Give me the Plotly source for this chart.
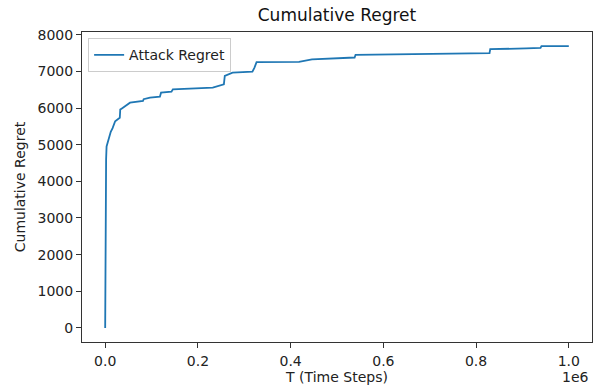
import plotly.graph_objects as go

# Data
time_steps = [0, 300, 700, 1200, 2000, 3000, 5000, 8000, 12000, 16000, 21500, 31500, 32500, 36000,
              53600, 81500, 83000, 96600, 118000, 120500, 143000, 146000, 232000, 256000, 258000,
              274700, 317600, 322000, 326500, 418000, 446000, 538000, 540000, 829000, 830500,
              907700, 939000, 941000, 1000000]
regret = [0, 1500, 3000, 4000, 4600, 4950, 5050, 5200, 5350, 5450, 5640, 5734, 5960, 5990,
          6145, 6192, 6240, 6282, 6307, 6419, 6447, 6512, 6556, 6649, 6877,
          6967, 6995, 7104, 7250, 7262, 7330, 7378, 7452, 7499, 7608,
          7625, 7640, 7690, 7690]

x_tick_vals = [0, 200000, 400000, 600000, 800000, 1000000]
x_tick_text = ["0.0", "0.2", "0.4", "0.6", "0.8", "1.0"]
y_tick_vals = [0, 1000, 2000, 3000, 4000, 5000, 6000, 7000, 8000]

FONT = "DejaVu Sans, sans-serif"

fig = go.Figure()
fig.add_trace(go.Scatter(x=time_steps, y=regret, mode="lines", name="Attack Regret",
                         line=dict(color="#1f77b4", width=1.8)))

ymax = max(regret)
fig.update_layout(
    width=606, height=385,
    margin=dict(l=82, r=14, t=32, b=43, autoexpand=False),
    paper_bgcolor="white", plot_bgcolor="white",
    font=dict(family=FONT, size=14, color="#222"),
    title=dict(text="Cumulative Regret", x=0.5, xref="paper", xanchor="center",
               y=1, yref="paper", yanchor="bottom", pad=dict(b=11),
               font=dict(size=17, color="#111")),
    showlegend=True,
    legend=dict(x=0.012, y=0.98, xanchor="left", yanchor="top",
                bgcolor="white", bordercolor="#cccccc", borderwidth=1,
                font=dict(size=14, color="#222")),
    xaxis=dict(range=[-50000, 1050000], tickvals=x_tick_vals, ticktext=x_tick_text,
               automargin=False, ticklabelstandoff=1,
               showgrid=False, zeroline=False, showline=True, mirror=True,
               linecolor="#333", linewidth=1, ticks="outside", ticklen=5, tickcolor="#333",
               title=dict(text="T (Time Steps)", standoff=0, font=dict(size=14))),
    yaxis=dict(range=[-0.05 * ymax, 1.05 * ymax], tickvals=y_tick_vals,
               automargin=False,
               showgrid=False, zeroline=False, showline=True, mirror=True,
               linecolor="#333", linewidth=1, ticks="outside", ticklen=5, tickcolor="#333",
               title=dict(text="Cumulative Regret", standoff=8, font=dict(size=14))),
)
fig.add_annotation(text="1e6", xref="paper", yref="paper", x=0.998, y=0, xanchor="right",
                   yanchor="middle", yshift=-35, showarrow=False, font=dict(size=14, color="#222"))

fig.write_html("out.html", config={"displayModeBar": False},
               post_script="document.body.style.margin='0';document.body.style.overflow='hidden';")
